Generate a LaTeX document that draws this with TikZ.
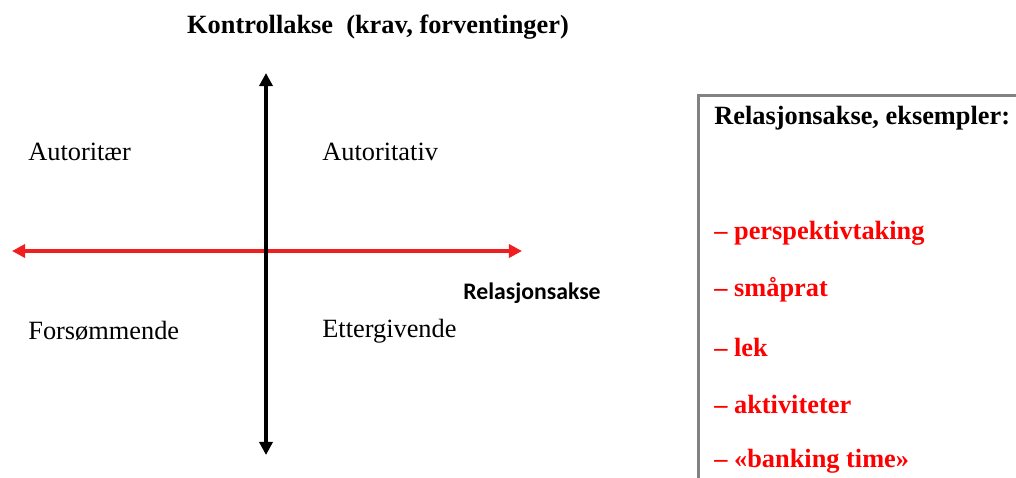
\documentclass[tikz,border=0pt]{standalone}
\usepackage{fontspec}
\setmainfont{Liberation Serif}
\newfontfamily\calibri{Carlito}
\usetikzlibrary{arrows.meta,positioning}
\definecolor{axisred}{RGB}{240,30,30}
\definecolor{boxgray}{RGB}{130,130,130}

\begin{document}
\begin{tikzpicture}[x=0.02cm, y=-0.02cm,
        lbl/.style={anchor=west, inner sep=0pt,
                    font=\fontsize{15}{18}\selectfont},
        item/.style={anchor=west, inner sep=0pt, text=red,
                     font=\bfseries\fontsize{15}{18}\selectfont},
        axis/.style={{Triangle[length=7.5pt,width=7.5pt]}-{Triangle[length=7.5pt,width=7.5pt]},
                     line width=2pt}]

        \useasboundingbox (0,0) rectangle (1016,477);
        \clip (0,0) rectangle (1016,477);

        % box with examples (runs off the right and bottom edge)
        \node[draw=boxgray, line width=1.6pt, anchor=north west, inner sep=0pt,
              minimum width=7cm, minimum height=8.5cm] (box) at (697,94) {};

        % title
        \node[inner sep=0pt, font=\bfseries\fontsize{15}{18}\selectfont] (title)
            at (378,27) {Kontrollakse~~(krav, forventinger)};

        % axis end points
        \coordinate (left)   at (12,251);
        \coordinate (right)  at (522,251);
        \coordinate (top)    at (266,73);
        \coordinate (bottom) at (266,455);

        % relation axis (red), then control axis (black)
        \draw[axis, axisred] (left) -- (right);
        \draw[axis, black] (bottom) -- (top);

        \node[inner sep=0pt, font=\calibri\bfseries\fontsize{13.5}{16}\selectfont] (rel)
            at (532,293) {Relasjonsakse};

        % quadrant labels
        \node[lbl] (autoritaer) at (28,152) {Autoritær};
        \node[lbl] (autoritativ) at (322,152) {Autoritativ};
        \node[lbl] (forsommende) at (28,331) {Forsømmende};
        \node[lbl] (ettergivende) at (322,331) {Ettergivende};

        % examples
        \node[lbl, font=\bfseries\fontsize{15}{18}\selectfont] (heading)
            at (714,118) {Relasjonsakse, eksempler:};
        \node[item] (ex1) at (714,233) {– perspektivtaking};
        \node[item] (ex2) at (714,290) {– småprat};
        \node[item] (ex3) at (714,347) {– lek};
        \node[item] (ex4) at (714,404) {– aktiviteter};
        \node[item] (ex5) at (714,461) {– «banking time»};

\end{tikzpicture}
\end{document}
